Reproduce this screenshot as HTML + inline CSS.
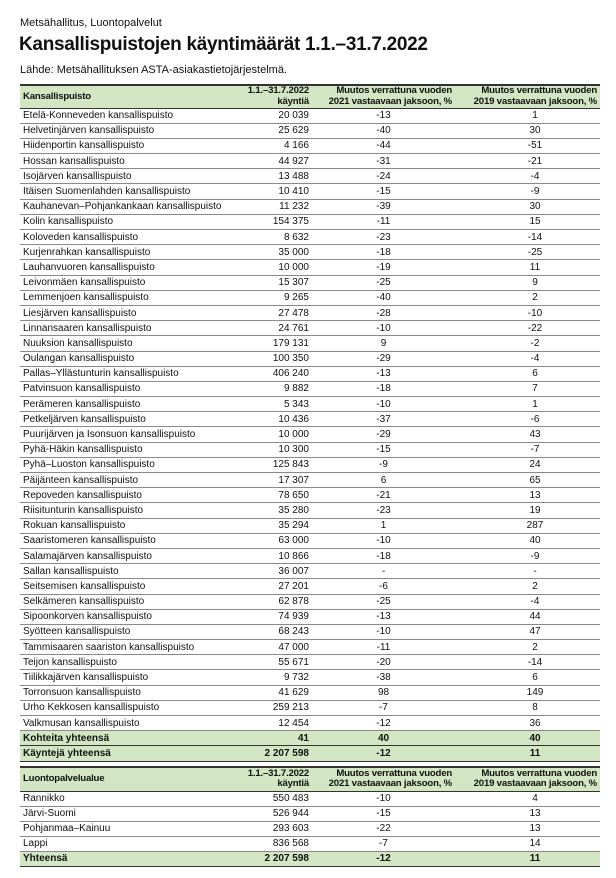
<!DOCTYPE html>
<html><head><meta charset="utf-8"><style>
body{margin:0;background:#fff;font-family:"Liberation Sans",sans-serif;color:#111;width:616px;height:878px;overflow:hidden;position:relative}
.t1{position:absolute;left:20px;top:17px;font-size:11px}
.t2{position:absolute;left:19px;top:34px;font-size:19px;font-weight:bold;letter-spacing:-0.3px}
.t3{position:absolute;left:20px;top:64px;font-size:11px}
table{position:absolute;left:20px;width:580px;border-collapse:collapse;font-size:10px;table-layout:fixed}
td{padding:0 3px;white-space:nowrap;border-bottom:1px solid #8a8a8a;line-height:13px}
tr.h td{background:#d2e6c4;font-weight:bold;font-size:9.6px;letter-spacing:-0.2px;line-height:10.5px;border-top:2px solid #333;border-bottom:1px solid #333;vertical-align:middle}
tr.s td{background:#d2e6c4;font-weight:bold;border-bottom:1px solid #333}
td:nth-child(2){text-align:right}
td:nth-child(3){text-align:center;padding-left:0;padding-right:0}
td:nth-child(4){text-align:center;padding-left:15px;padding-right:0}
tr.h td:nth-child(3),tr.h td:nth-child(4){text-align:right;padding-right:3px;padding-left:0}
#a tr{height:15.2px}#b tr{height:15px}
</style></head><body>
<div class="t1">Metsähallitus, Luontopalvelut</div>
<div class="t2">Kansallispuistojen käyntimäärät 1.1.–31.7.2022</div>
<div class="t3">Lähde: Metsähallituksen ASTA-asiakastietojärjestelmä.</div>
<table id="a" style="top:84px">
<colgroup><col style="width:216px"><col style="width:76px"><col style="width:143px"><col style="width:145px"></colgroup>
<tr class="h" style="height:23px"><td>Kansallispuisto</td><td>1.1.–31.7.2022<br>käyntiä</td><td>Muutos verrattuna vuoden<br>2021 vastaavaan jaksoon, %</td><td>Muutos verrattuna vuoden<br>2019 vastaavaan jaksoon, %</td></tr>
<tr><td>Etelä-Konneveden kansallispuisto</td><td>20 039</td><td>-13</td><td>1</td></tr>
<tr><td>Helvetinjärven kansallispuisto</td><td>25 629</td><td>-40</td><td>30</td></tr>
<tr><td>Hiidenportin kansallispuisto</td><td>4 166</td><td>-44</td><td>-51</td></tr>
<tr><td>Hossan kansallispuisto</td><td>44 927</td><td>-31</td><td>-21</td></tr>
<tr><td>Isojärven kansallispuisto</td><td>13 488</td><td>-24</td><td>-4</td></tr>
<tr><td>Itäisen Suomenlahden kansallispuisto</td><td>10 410</td><td>-15</td><td>-9</td></tr>
<tr><td>Kauhanevan–Pohjankankaan kansallispuisto</td><td>11 232</td><td>-39</td><td>30</td></tr>
<tr><td>Kolin kansallispuisto</td><td>154 375</td><td>-11</td><td>15</td></tr>
<tr><td>Koloveden kansallispuisto</td><td>8 632</td><td>-23</td><td>-14</td></tr>
<tr><td>Kurjenrahkan kansallispuisto</td><td>35 000</td><td>-18</td><td>-25</td></tr>
<tr><td>Lauhanvuoren kansallispuisto</td><td>10 000</td><td>-19</td><td>11</td></tr>
<tr><td>Leivonmäen kansallispuisto</td><td>15 307</td><td>-25</td><td>9</td></tr>
<tr><td>Lemmenjoen kansallispuisto</td><td>9 265</td><td>-40</td><td>2</td></tr>
<tr><td>Liesjärven kansallispuisto</td><td>27 478</td><td>-28</td><td>-10</td></tr>
<tr><td>Linnansaaren kansallispuisto</td><td>24 761</td><td>-10</td><td>-22</td></tr>
<tr><td>Nuuksion kansallispuisto</td><td>179 131</td><td>9</td><td>-2</td></tr>
<tr><td>Oulangan kansallispuisto</td><td>100 350</td><td>-29</td><td>-4</td></tr>
<tr><td>Pallas–Yllästunturin kansallispuisto</td><td>406 240</td><td>-13</td><td>6</td></tr>
<tr><td>Patvinsuon kansallispuisto</td><td>9 882</td><td>-18</td><td>7</td></tr>
<tr><td>Perämeren kansallispuisto</td><td>5 343</td><td>-10</td><td>1</td></tr>
<tr><td>Petkeljärven kansallispuisto</td><td>10 436</td><td>-37</td><td>-6</td></tr>
<tr><td>Puurijärven ja Isonsuon kansallispuisto</td><td>10 000</td><td>-29</td><td>43</td></tr>
<tr><td>Pyhä-Häkin kansallispuisto</td><td>10 300</td><td>-15</td><td>-7</td></tr>
<tr><td>Pyhä–Luoston kansallispuisto</td><td>125 843</td><td>-9</td><td>24</td></tr>
<tr><td>Päijänteen kansallispuisto</td><td>17 307</td><td>6</td><td>65</td></tr>
<tr><td>Repoveden kansallispuisto</td><td>78 650</td><td>-21</td><td>13</td></tr>
<tr><td>Riisitunturin kansallispuisto</td><td>35 280</td><td>-23</td><td>19</td></tr>
<tr><td>Rokuan kansallispuisto</td><td>35 294</td><td>1</td><td>287</td></tr>
<tr><td>Saaristomeren kansallispuisto</td><td>63 000</td><td>-10</td><td>40</td></tr>
<tr><td>Salamajärven kansallispuisto</td><td>10 866</td><td>-18</td><td>-9</td></tr>
<tr><td>Sallan kansallispuisto</td><td>36 007</td><td>-</td><td>-</td></tr>
<tr><td>Seitsemisen kansallispuisto</td><td>27 201</td><td>-6</td><td>2</td></tr>
<tr><td>Selkämeren kansallispuisto</td><td>62 878</td><td>-25</td><td>-4</td></tr>
<tr><td>Sipoonkorven kansallispuisto</td><td>74 939</td><td>-13</td><td>44</td></tr>
<tr><td>Syötteen kansallispuisto</td><td>68 243</td><td>-10</td><td>47</td></tr>
<tr><td>Tammisaaren saariston kansallispuisto</td><td>47 000</td><td>-11</td><td>2</td></tr>
<tr><td>Teijon kansallispuisto</td><td>55 671</td><td>-20</td><td>-14</td></tr>
<tr><td>Tiilikkajärven kansallispuisto</td><td>9 732</td><td>-38</td><td>6</td></tr>
<tr><td>Torronsuon kansallispuisto</td><td>41 629</td><td>98</td><td>149</td></tr>
<tr><td>Urho Kekkosen kansallispuisto</td><td>259 213</td><td>-7</td><td>8</td></tr>
<tr><td>Valkmusan kansallispuisto</td><td>12 454</td><td>-12</td><td>36</td></tr>
<tr class="s"><td>Kohteita yhteensä</td><td>41</td><td>40</td><td>40</td></tr>
<tr class="s"><td>Käyntejä yhteensä</td><td>2 207 598</td><td>-12</td><td>11</td></tr>
</table>
<table id="b" style="top:766px">
<colgroup><col style="width:216px"><col style="width:76px"><col style="width:143px"><col style="width:145px"></colgroup>
<tr class="h" style="height:24px"><td>Luontopalvelualue</td><td>1.1.–31.7.2022<br>käyntiä</td><td>Muutos verrattuna vuoden<br>2021 vastaavaan jaksoon, %</td><td>Muutos verrattuna vuoden<br>2019 vastaavaan jaksoon, %</td></tr>
<tr><td>Rannikko</td><td>550 483</td><td>-10</td><td>4</td></tr>
<tr><td>Järvi-Suomi</td><td>526 944</td><td>-15</td><td>13</td></tr>
<tr><td>Pohjanmaa–Kainuu</td><td>293 603</td><td>-22</td><td>13</td></tr>
<tr><td>Lappi</td><td>836 568</td><td>-7</td><td>14</td></tr>
<tr class="s"><td>Yhteensä</td><td>2 207 598</td><td>-12</td><td>11</td></tr>
</table>
</body></html>
